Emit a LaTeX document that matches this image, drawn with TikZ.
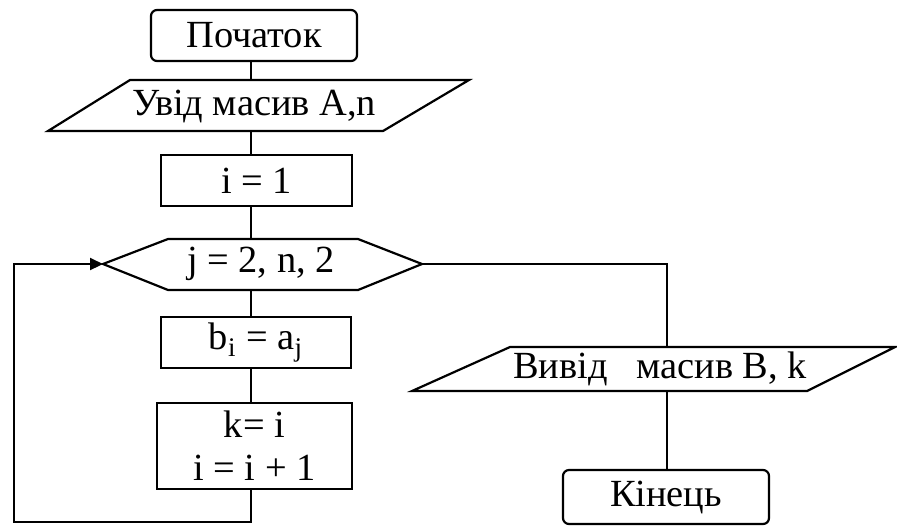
\documentclass[tikz,border=0pt]{standalone}
\usepackage{fontspec}
\setmainfont{Liberation Serif}
\usetikzlibrary{arrows.meta}
\begin{document}
\begin{tikzpicture}[x=0.5pt,y=-0.5pt,
  line width=1.1pt,
  every node/.style={font=\fontsize{19.2pt}{21.5pt}\selectfont, inner sep=0pt},
  termbox/.style={draw, rectangle, rounded corners=3pt},
  procbox/.style={draw, rectangle},
  iobox/.style={draw},
  flow/.style={draw},
  loopback/.style={draw, -{Triangle[length=6.5pt,width=6pt]}}]
\useasboundingbox (0,0) rectangle (897,526);
\coordinate (ax) at (251,0);
% start
\node[termbox, minimum width=103pt, minimum height=25.5pt] (start) at (254,35.5) {Початок};
% input
\path[iobox] (130,80) -- (469,80) -- (383,131) -- (48,131) -- cycle;
\node (inp) at (254,106) {Увід масив A,n};
\coordinate (inpT) at (251,80);
\coordinate (inpB) at (251,131);
% init
\node[procbox, minimum width=95.5pt, minimum height=25.5pt] (init) at (256.5,180.5) {i = 1};
% loop hexagon
\path[iobox] (103,264) -- (168,239) -- (358,239) -- (422,264) -- (358,290) -- (168,290) -- cycle;
\node (loop) at (261,264) {j = 2, n, 2};
\coordinate (loopL) at (103,264);
\coordinate (loopR) at (422,264);
\coordinate (loopT) at (251,239);
\coordinate (loopB) at (251,290);
% body
\node[procbox, minimum width=95pt, minimum height=25.5pt] (assign) at (256,342.5) {b\textsubscript{i} = a\textsubscript{j}};
\node[procbox, align=center, minimum width=97.5pt, minimum height=43pt] (incr) at (254.5,446) {k= i\\i = i + 1};
\coordinate (loopcorner) at (14,522);
% output
\path[iobox] (510,347) -- (895,347) -- (807,391) -- (412,391) -- cycle;
\node (out) at (660,369) {Вивід\ \ \ масив B, k};
\coordinate (outT) at (667,347);
\coordinate (outB) at (667,391);
% end
\node[termbox, minimum width=103pt, minimum height=27pt] (end) at (666,497) {Кінець};
% connectors
\path[flow] (ax |- start.south) -- (inpT);
\path[flow] (inpB) -- (ax |- init.north);
\path[flow] (ax |- init.south) -- (loopT);
\path[flow] (loopB) -- (ax |- assign.north);
\path[flow] (ax |- assign.south) -- (ax |- incr.north);
\path[loopback] (ax |- incr.south) |- (loopcorner) |- (loopL);
\path[flow] (loopR) -| (outT);
\path[flow] (outB) -- (outB |- end.north);
\end{tikzpicture}
\end{document}
